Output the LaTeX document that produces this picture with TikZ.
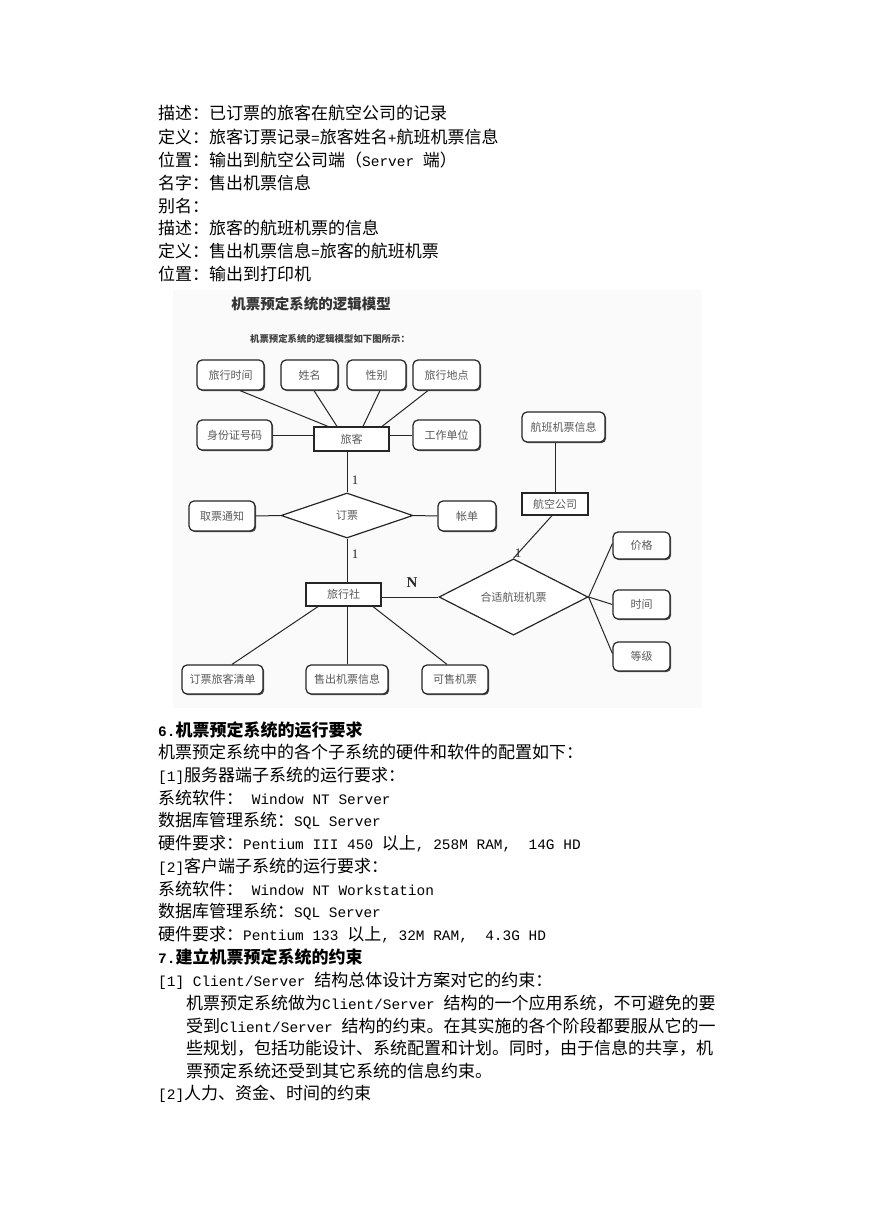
\documentclass[tikz,border=0pt]{standalone}
\usepackage{fontspec}
\setmainfont{Noto Sans CJK SC}
\newfontfamily\enfont{Liberation Mono}[Scale=0.85]
\newfontfamily\numfont{Liberation Serif}
\newcommand\en[1]{{\enfont #1}}
\usetikzlibrary{shapes.geometric,shadows,calc}

\begin{document}
\begin{tikzpicture}[x=1pt, y=-1pt,
    txt/.style={anchor=west, inner sep=0pt, font=\fontsize{17}{17}\selectfont, text height=13pt, text depth=3pt},
    head/.style={txt, font=\fontsize{17}{17}\selectfont\bfseries},
    attr/.style={draw=black!85, line width=1.2pt, rounded corners=5pt, fill=white, minimum height=30pt, inner sep=1pt, font=\fontsize{11}{11}\selectfont, text=black!65, drop shadow={shadow xshift=1.2pt, shadow yshift=-1.2pt, fill=black!70, opacity=1}},
    ent/.style={attr, rounded corners=0pt, minimum height=23pt},
    rel/.style={diamond, draw=black!85, line width=1.2pt, fill=white, inner sep=0pt, font=\fontsize{11}{11}\selectfont, text=black!65},
    conn/.style={draw=black!85, line width=1pt},
    card/.style={inner sep=0pt, font=\numfont\fontsize{13}{13}\selectfont, text=black!85}
]
\useasboundingbox (0,0) rectangle (869,1228);
\fill[white] (0,0) rectangle (869,1228);

% text above the figure
\node[txt] (a1) at (158,115) {描述：已订票的旅客在航空公司的记录};
\node[txt] (a2) at (158,138) {定义：旅客订票记录\en{=}旅客姓名\en{+}航班机票信息};
\node[txt] (a3) at (158,161) {位置：输出到航空公司端（\en{Server }端）};
\node[txt] (a4) at (158,184) {名字：售出机票信息};
\node[txt] (a5) at (158,207) {别名：};
\node[txt] (a6) at (158,229) {描述：旅客的航班机票的信息};
\node[txt] (a7) at (158,252) {定义：售出机票信息\en{=}旅客的航班机票};
\node[txt] (a8) at (158,275) {位置：输出到打印机};

% the figure
\fill[black!2] (173,290) rectangle (702,708);
\node[font=\fontsize{14.5}{14.5}\selectfont\bfseries, text=black!80] (title) at (311,304) {机票预定系统的逻辑模型};
\node[font=\fontsize{9.4}{9.4}\selectfont\bfseries, text=black!75] (subtitle) at (330,339) {机票预定系统的逻辑模型如下图所示：};

\node[attr, minimum width=67pt] (time) at (230.5,375) {旅行时间};
\node[attr, minimum width=57pt] (name) at (309.5,375) {姓名};
\node[attr, minimum width=59pt] (sex) at (376.5,375) {性别};
\node[attr, minimum width=67pt] (place) at (446.5,375) {旅行地点};
\node[attr, minimum width=75pt] (idno) at (234.5,435) {身份证号码};
\node[ent, minimum width=75pt, minimum height=24pt] (passenger) at (351.5,439) {旅客};
\node[attr, minimum width=67pt] (work) at (446.5,435) {工作单位};
\node[attr, minimum width=83pt] (flightinfo) at (563.5,427) {航班机票信息};

\node[rel, minimum width=132pt, minimum height=45pt] (booking) at (347,515.5) {订票};
\node[attr, minimum width=66pt] (notice) at (222,516) {取票通知};
\node[attr, minimum width=58pt] (bill) at (467,516) {帐单};
\node[ent, minimum width=66pt, minimum height=22pt] (airline) at (555,504) {航空公司};

\node[ent, minimum width=75pt] (agency) at (343.5,594.5) {旅行社};
\node[rel, minimum width=149pt, minimum height=44pt] (ticket) at (513.5,597) {合适航班机票};
\node[attr, minimum width=57pt, minimum height=27pt] (price) at (641.5,545.5) {价格};
\node[attr, minimum width=57pt, minimum height=29pt] (ttime) at (641.5,604.5) {时间};
\node[attr, minimum width=57pt, minimum height=29pt] (grade) at (641.5,656.5) {等级};

\node[attr, minimum width=81pt, minimum height=29pt] (list) at (222.5,679.5) {订票旅客清单};
\node[attr, minimum width=82pt, minimum height=29pt] (sold) at (347,679.5) {售出机票信息};
\node[attr, minimum width=66pt, minimum height=29pt] (avail) at (455,679.5) {可售机票};

\draw[conn] ([xshift=9.5pt]time.south) -- ([xshift=-23.5pt]passenger.north);
\draw[conn] ([xshift=4.5pt]name.south) -- ([xshift=-14.5pt]passenger.north);
\draw[conn] ([xshift=3.5pt]sex.south) -- ([xshift=11.5pt]passenger.north);
\draw[conn] ([xshift=-18.5pt]place.south) -- ([xshift=30.5pt]passenger.north);
\draw[conn] (idno.east) -- (idno.east -| passenger.west);
\draw[conn] (work.west) -- (work.west -| passenger.east);
\draw[conn] (booking.north) -- (booking.north |- passenger.south);
\draw[conn] (booking.west) -- (notice.east);
\draw[conn] (booking.east) -- (bill.west);
\draw[conn] (booking.south) -- (booking.south |- agency.north);
\draw[conn] (airline.north) -- (airline.north |- flightinfo.south);
\draw[conn] ([xshift=-3pt]airline.south) -- (ticket.north);
\draw[conn] (ticket.west) -- (ticket.west -| agency.east);
\draw[conn] (ticket.east) -- ([yshift=2pt]price.west);
\draw[conn] (ticket.east) -- (ttime.west);
\draw[conn] (ticket.east) -- ([yshift=3pt]grade.west);
\draw[conn] ([xshift=-25.5pt]agency.south) -- ([xshift=9.5pt]list.north);
\draw[conn] (sold.north) -- (sold.north |- agency.south);
\draw[conn] ([xshift=29.5pt]agency.south) -- ([xshift=-8pt]avail.north);

\node[card] (c1) at (355,480) {1};
\node[card] (c2) at (355,554) {1};
\node[card] (c3) at (518,553) {1};
\node[card, font=\numfont\bfseries\fontsize{15}{15}\selectfont] (cn) at (412,583) {N};

% text below the figure
\node[head] (b1) at (158,731) {\en{6.}机票预定系统的运行要求};
\node[txt] (b2) at (158,753) {机票预定系统中的各个子系统的硬件和软件的配置如下：};
\node[txt] (b3) at (158,776) {\en{[1]}服务器端子系统的运行要求：};
\node[txt] (b4) at (158,799) {系统软件：\en{\ Window NT Server}};
\node[txt] (b5) at (158,821) {数据库管理系统：\en{SQL Server}};
\node[txt] (b6) at (158,844) {硬件要求：\en{Pentium III 450 }以上\en{, 258M RAM,\ \ 14G HD}};
\node[txt] (b7) at (158,867) {\en{[2]}客户端子系统的运行要求：};
\node[txt] (b8) at (158,890) {系统软件：\en{\ Window NT Workstation}};
\node[txt] (b9) at (158,912) {数据库管理系统：\en{SQL Server}};
\node[txt] (b10) at (158,935) {硬件要求：\en{Pentium 133 }以上\en{, 32M RAM,\ \ 4.3G HD}};
\node[head] (b11) at (158,958) {\en{7.}建立机票预定系统的约束};
\node[txt] (b12) at (158,981) {\en{[1] Client/Server }结构总体设计方案对它的约束：};
\node[txt] (b13) at (186,1004) {机票预定系统做为\en{Client/Server\ }结构的一个应用系统，不可避免的要};
\node[txt] (b14) at (186,1027) {受到\en{Client/Server }结构的约束。在其实施的各个阶段都要服从它的一};
\node[txt] (b15) at (186,1049) {些规划，包括功能设计、系统配置和计划。同时，由于信息的共享，机};
\node[txt] (b16) at (186,1072) {票预定系统还受到其它系统的信息约束。};
\node[txt] (b17) at (158,1094) {\en{[2]}人力、资金、时间的约束};
\end{tikzpicture}
\end{document}
